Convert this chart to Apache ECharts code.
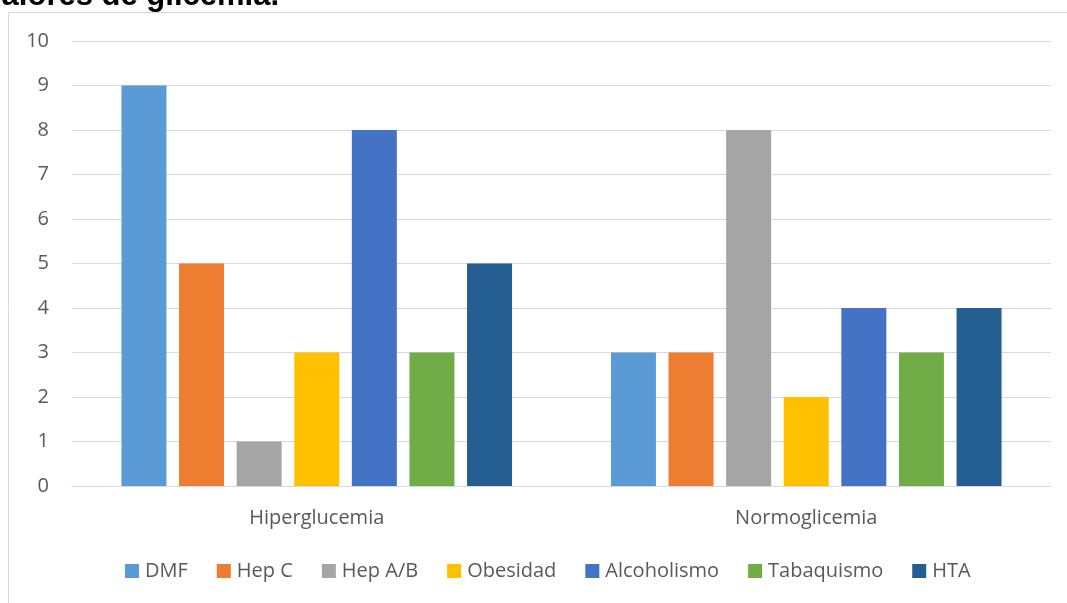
<!DOCTYPE html>
<html>
<head>
<meta charset="utf-8">
<script src="https://cdn.jsdelivr.net/npm/echarts@6/dist/echarts.min.js"></script>
<style>
html,body{margin:0;padding:0;background:#fff;}
#c{width:1067px;height:603px;}
</style>
</head>
<body>
<div id="c"></div>
<script>
const categories = ['Hiperglucemia', 'Normoglicemia'];
const seriesNames = ['DMF', 'Hep C', 'Hep A/B', 'Obesidad', 'Alcoholismo', 'Tabaquismo', 'HTA'];
const dmf = [9, 3];
const hepC = [5, 3];
const hepAB = [1, 8];
const obesidad = [3, 2];
const alcoholismo = [8, 4];
const tabaquismo = [3, 3];
const hta = [5, 4];
const yTicks = [0, 1, 2, 3, 4, 5, 6, 7, 8, 9, 10];
const colors = ['#5B9BD5', '#ED7D31', '#A5A5A5', '#FFC000', '#4472C4', '#70AD47', '#255E91'];
const titleText = 'valores de glicemia.';

const values = [dmf, hepC, hepAB, obesidad, alcoholismo, tabaquismo, hta];
const FONT = '"Open Sans", "Noto Sans", sans-serif';

const chart = echarts.init(document.getElementById('c'), null, {renderer: 'canvas'});
chart.setOption({
  animation: false,
  backgroundColor: '#fff',
  color: colors,
  graphic: [
    {
      type: 'rect',
      shape: {x: 8.5, y: 12.5, width: 1200, height: 800},
      style: {fill: 'none', stroke: '#D9D9D9', lineWidth: 1},
      silent: true,
      z: -10
    },
    {
      type: 'text',
      x: 279, y: -4,
      style: {
        text: titleText,
        fill: '#000',
        font: 'bold 31px "Liberation Sans", Arial, sans-serif',
        align: 'right',
        verticalAlign: 'middle'
      },
      silent: true
    }
  ],
  grid: {left: 72, right: 16, top: 41, bottom: 117, containLabel: false},
  legend: {
    data: seriesNames,
    top: 561,
    left: 125,
    padding: 0,
    icon: 'rect',
    itemWidth: 14,
    itemHeight: 14,
    itemGap: 29,
    textStyle: {fontFamily: FONT, fontSize: 20, color: '#595959', lineHeight: 20, padding: [0, 0, 0, 1]}
  },
  xAxis: {
    type: 'category',
    data: categories,
    axisLine: {show: true, lineStyle: {color: '#D9D9D9', width: 1}},
    axisTick: {show: false},
    axisLabel: {fontFamily: FONT, fontSize: 20, color: '#595959', margin: 22},
    splitLine: {show: false}
  },
  yAxis: {
    type: 'value',
    min: yTicks[0],
    max: yTicks[yTicks.length - 1],
    interval: 1,
    axisLine: {show: false},
    axisTick: {show: false},
    axisLabel: {fontFamily: FONT, fontSize: 20, color: '#595959', margin: 23},
    splitLine: {show: true, lineStyle: {color: '#D9D9D9', width: 1}}
  },
  series: seriesNames.map((name, i) => ({
    name: name,
    type: 'bar',
    data: values[i],
    barWidth: 45,
    barGap: '28%',
    itemStyle: {color: colors[i]}
  }))
});
</script>
</body>
</html>
